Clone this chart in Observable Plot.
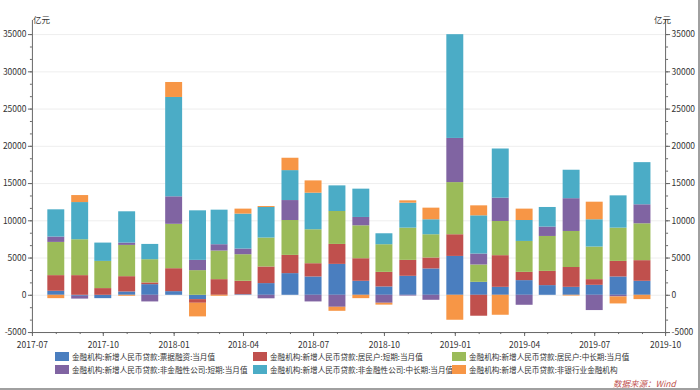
<!DOCTYPE html>
<html><head><meta charset="utf-8">
<script src="https://cdn.jsdelivr.net/npm/d3@7"></script>
<script src="https://cdn.jsdelivr.net/npm/@observablehq/plot@0.6"></script>
<style>
body{margin:0;background:#fff;font-family:"Noto Sans CJK SC","Noto Sans",sans-serif;}
#wrap{position:relative;width:700px;height:390px;overflow:hidden;box-sizing:border-box;border-right:2px solid #a0a0a0;border-bottom:2px solid #a0a0a0;}
#chart{position:absolute;left:0;top:0;}
.leg{position:absolute;font-size:7.6px;color:#333;white-space:nowrap;line-height:10px;}
.sw{position:absolute;width:14px;height:9px;}
.unit{position:absolute;top:14px;font-size:8.5px;color:#333;line-height:10px;}
#src{position:absolute;left:613px;top:378px;font-size:8.5px;color:#c0504d;font-style:italic;line-height:10px;}
</style></head>
<body><div id="wrap"><div id="chart"></div><div id="legend"></div>
<div class="unit" style="left:33px">亿元</div><div class="unit" style="left:654px">亿元</div>
<div id="src">数据来源：Wind</div></div>
<script>
const months = ["2017-08","2017-09","2017-10","2017-11","2017-12","2018-01","2018-02","2018-03","2018-04","2018-05","2018-06","2018-07","2018-08","2018-09","2018-10","2018-11","2018-12","2019-01","2019-02","2019-03","2019-04","2019-05","2019-06","2019-07","2019-08","2019-09"];
const bill      = [540,-130,-450,450,1430,490,-580,0,80,1570,2910,2460,4150,1880,1120,2550,3540,5220,1740,1070,1970,1300,1070,1340,2460,1880];
const hhShort   = [2100,2640,900,2050,230,3080,-490,2100,1800,2230,2450,1780,2680,3030,1960,2140,1470,2910,-2810,4250,1110,1910,2660,760,2090,2770];
const hhLong    = [4460,4820,3650,4200,3120,5960,3310,3840,3570,3890,4680,4560,4420,4420,3710,4330,3120,7000,2330,4590,4150,4690,4840,4380,4470,4950];
const corpShort = [720,-380,0,310,-890,3690,1380,850,760,-470,2680,-890,-1610,1120,-1070,-100,-670,5930,1470,3130,-1340,1260,4400,-2050,-220,2550];
const corpLong  = [3655,4990,2460,4200,2050,13340,6650,4640,4690,4100,4020,4910,3440,3800,1470,3350,2010,13930,5130,6600,2810,2630,3820,3660,4330,5660];
const nonBank   = [-450,940,0,-130,0,2010,-1830,-130,670,130,1660,1650,-540,-450,-250,310,1560,-3350,1340,-2680,1530,0,-100,2360,-940,-580];
const seriesNames = [
  "金融机构:新增人民币贷款:票据融资:当月值",
  "金融机构:新增人民币贷款:居民户:短期:当月值",
  "金融机构:新增人民币贷款:居民户:中长期:当月值",
  "金融机构:新增人民币贷款:非金融性公司:短期:当月值",
  "金融机构:新增人民币贷款:非金融性公司:中长期:当月值",
  "金融机构:新增人民币贷款:非银行业金融机构"
];
const colors = ["#4a7ebf","#c0504d","#9bbb59","#8064a2","#4bacc6","#f79646"];
const yTicks = [-5000,0,5000,10000,15000,20000,25000,30000,35000];
const xDomain = ["2017-07-01","2019-10-01"];

const seriesValues = [bill,hhShort,hhLong,corpShort,corpLong,nonBank];
const data = [];
months.forEach((m,i)=>{
  seriesValues.forEach((arr,s)=>data.push({date:new Date(m+"-01"), series:seriesNames[s], value:arr[i]}));
});
const xd = xDomain.map(d=>new Date(d));
const yMinor = d3.range(-5000, 36000, 5000/3);
const axisColor = "#666";

const chart = Plot.plot({
  width:700, height:352,
  marginLeft:32, marginRight:33, marginTop:20, marginBottom:19,
  style:{fontFamily:'"Noto Sans CJK SC","Noto Sans",sans-serif', fontSize:"8.5px", color:"#333", background:"transparent"},
  x:{type:"utc", domain:xd},
  y:{domain:[-5000,36900]},
  color:{domain:seriesNames, range:colors},
  marks:[
    Plot.ruleY(yTicks.filter(v=>v>-5000), {stroke:"#eeeeee"}),
    Plot.rectY(data, {
      x1:d=>d3.utcDay.offset(d.date,-11),
      x2:d=>d3.utcDay.offset(d.date,11),
      y:"value", fill:"series"
    }),
    Plot.ruleX(xd, {stroke:axisColor}),
    Plot.ruleY([-5000], {stroke:axisColor}),
    Plot.axisY({anchor:"left", ticks:yMinor, tickSize:2, tickFormat:()=>"", label:null, stroke:axisColor}),
    Plot.axisY({anchor:"right", ticks:yMinor, tickSize:2, tickFormat:()=>"", label:null, stroke:axisColor}),
    Plot.axisY({anchor:"left", ticks:yTicks, tickSize:4, tickPadding:2, tickFormat:d=>String(d), label:null, stroke:axisColor}),
    Plot.axisY({anchor:"right", ticks:yTicks, tickSize:4, tickPadding:2, tickFormat:d=>String(d), label:null, stroke:axisColor}),
    Plot.axisX({ticks:d3.utcMonth.every(1), tickSize:2, tickFormat:()=>"", label:null, stroke:axisColor}),
    Plot.axisX({ticks:d3.utcMonth.every(3), tickSize:4, tickPadding:5, tickFormat:d3.utcFormat("%Y-%m"), label:null, stroke:axisColor})
  ]
});
document.getElementById("chart").appendChild(chart);

const leg = document.getElementById("legend");
const colX = [55,253,452], rowY = [352,365];
seriesNames.forEach((name,i)=>{
  const c = i%3, r = Math.floor(i/3);
  const sw = document.createElement("div");
  sw.className="sw"; sw.style.left=colX[c]+"px"; sw.style.top=rowY[r]+"px"; sw.style.background=colors[i];
  const t = document.createElement("div");
  t.className="leg"; t.style.left=(colX[c]+17)+"px"; t.style.top=(rowY[r]-0.5)+"px"; t.textContent=name;
  leg.appendChild(sw); leg.appendChild(t);
});
</script>
</body></html>
